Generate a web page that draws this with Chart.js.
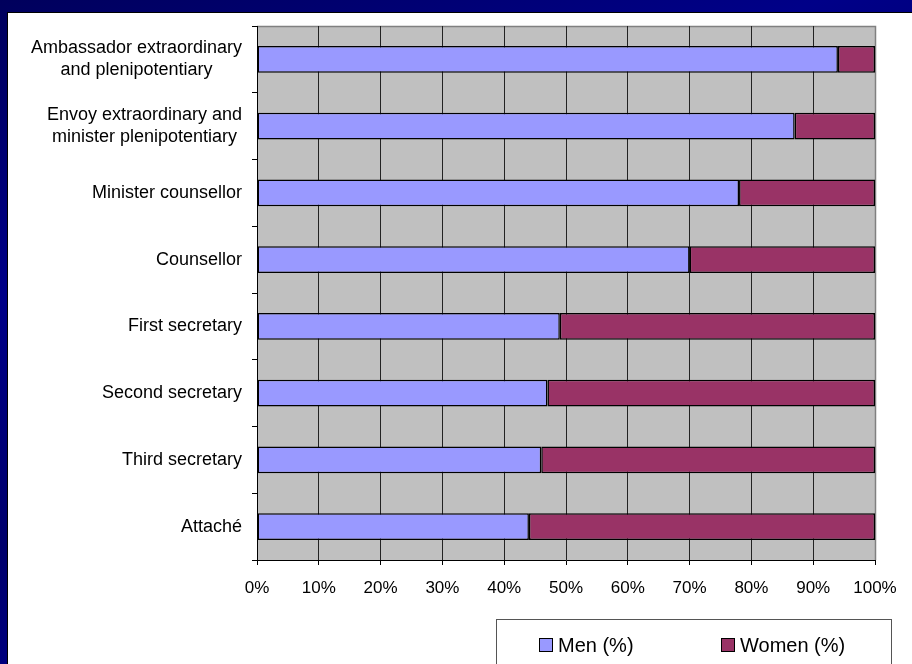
<!DOCTYPE html>
<html>
<head>
<meta charset="utf-8">
<script src="https://cdn.jsdelivr.net/npm/chart.js@4.4.1/dist/chart.umd.min.js"></script>
<style>
  html, body { margin: 0; padding: 0; width: 912px; height: 664px; overflow: hidden; }
  body {
    position: relative;
    background: linear-gradient(160deg, #00005c 0%, #000088 30%, #00006c 55%, #000092 80%, #000078 100%);
  }
  #panel { position: absolute; left: 7px; top: 12px; width: 920px; height: 670px; background: #fff; border: 1px solid #000; }
  #chart { position: absolute; left: 0; top: 0; }
</style>
</head>
<body>
<div id="panel"></div>
<canvas id="chart" width="912" height="664"></canvas>
<script>
const categories = [
  ["Ambassador extraordinary", "and plenipotentiary"],
  ["Envoy extraordinary and", "minister plenipotentiary"],
  "Minister counsellor",
  "Counsellor",
  "First secretary",
  "Second secretary",
  "Third secretary",
  "Attaché"
];
const menValues = [94, 87, 78, 70, 49, 47, 46, 44];
const womenValues = [6, 13, 22, 30, 51, 53, 54, 56];
const xTickLabels = ["0%", "10%", "20%", "30%", "40%", "50%", "60%", "70%", "80%", "90%", "100%"];

const FONT = '"Liberation Sans", Arial, sans-serif';

// grey plot area with the thin grey frame on top and right
const plotBackground = {
  id: "plotBackground",
  beforeDraw(chart) {
    const { ctx, chartArea: a } = chart;
    ctx.save();
    ctx.fillStyle = "#c0c0c0";
    ctx.fillRect(a.left, a.top, a.right - a.left, a.bottom - a.top);
    ctx.strokeStyle = "#808080";
    ctx.lineWidth = 1.5;
    ctx.beginPath();
    ctx.moveTo(a.left, a.top + 0.5);
    ctx.lineTo(a.right + 0.5, a.top + 0.5);
    ctx.lineTo(a.right + 0.5, a.bottom);
    ctx.stroke();
    ctx.restore();
  }
};

// category labels, each block right aligned, lines centred inside it
const categoryLabels = {
  id: "categoryLabels",
  afterDraw(chart) {
    const { ctx } = chart;
    const y = chart.scales.y;
    ctx.save();
    ctx.font = "18px " + FONT;
    ctx.fillStyle = "#000";
    ctx.textAlign = "center";
    ctx.textBaseline = "middle";
    const right = y.right - 15;
    categories.forEach((label, i) => {
      const lines = Array.isArray(label) ? label : [label];
      const w = Math.max(...lines.map(l => ctx.measureText(l).width));
      const cx = right - w / 2;
      const cy = y.getPixelForValue(i);
      lines.forEach((l, j) => {
        ctx.fillText(l, cx, cy + (j - (lines.length - 1) / 2) * 22);
      });
    });
    ctx.restore();
  }
};

// boxed legend at the bottom right
const legendBox = {
  id: "legendBox",
  afterDraw(chart) {
    const { ctx } = chart;
    ctx.save();
    ctx.strokeStyle = "#555";
    ctx.lineWidth = 1;
    ctx.strokeRect(496.5, 619.5, 395, 70);
    ctx.font = "20px " + FONT;
    ctx.textAlign = "left";
    ctx.textBaseline = "middle";
    const xs = [539, 721];
    chart.data.datasets.forEach((ds, i) => {
      ctx.fillStyle = ds.backgroundColor;
      ctx.fillRect(xs[i], 638, 14, 14);
      ctx.strokeStyle = "#000";
      ctx.strokeRect(xs[i] + 0.5, 638.5, 13, 13);
      ctx.fillStyle = "#000";
      ctx.fillText(ds.label, xs[i] + 19, 646);
    });
    ctx.restore();
  }
};

new Chart(document.getElementById("chart"), {
  type: "bar",
  data: {
    labels: categories,
    datasets: [
      {
        label: "Men (%)",
        data: menValues,
        backgroundColor: "#9999ff",
        borderColor: "#000",
        borderWidth: 1.5,
        borderSkipped: false,
        categoryPercentage: 0.4,
        barPercentage: 1
      },
      {
        label: "Women (%)",
        data: womenValues,
        backgroundColor: "#993366",
        borderColor: "#000",
        borderWidth: 1.5,
        borderSkipped: false,
        categoryPercentage: 0.4,
        barPercentage: 1
      }
    ]
  },
  options: {
    indexAxis: "y",
    responsive: false,
    animation: false,
    layout: { padding: { top: 26, right: 37, left: 0, bottom: 0 } },
    scales: {
      x: {
        stacked: true,
        min: 0,
        max: 100,
        ticks: {
          stepSize: 10,
          autoSkip: false,
          maxRotation: 0,
          padding: 13,
          color: "#000",
          font: { size: 17, family: FONT },
          callback: (v, i) => xTickLabels[i]
        },
        grid: {
          color: c => (c.index === 10 ? "#808080" : "#222"),
          lineWidth: 1,
          tickLength: 5,
          tickColor: "#000"
        },
        border: { color: "#000", width: 1 },
        afterFit: s => { s.height = 104; }
      },
      y: {
        stacked: true,
        ticks: { display: false },
        grid: {
          drawOnChartArea: false,
          drawTicks: true,
          tickLength: 5,
          tickColor: "#000",
          offset: true
        },
        border: { color: "#000", width: 1 },
        afterFit: s => { s.width = 257; }
      }
    },
    plugins: {
      legend: { display: false },
      tooltip: { enabled: false }
    }
  },
  plugins: [plotBackground, categoryLabels, legendBox]
});
</script>
</body>
</html>
